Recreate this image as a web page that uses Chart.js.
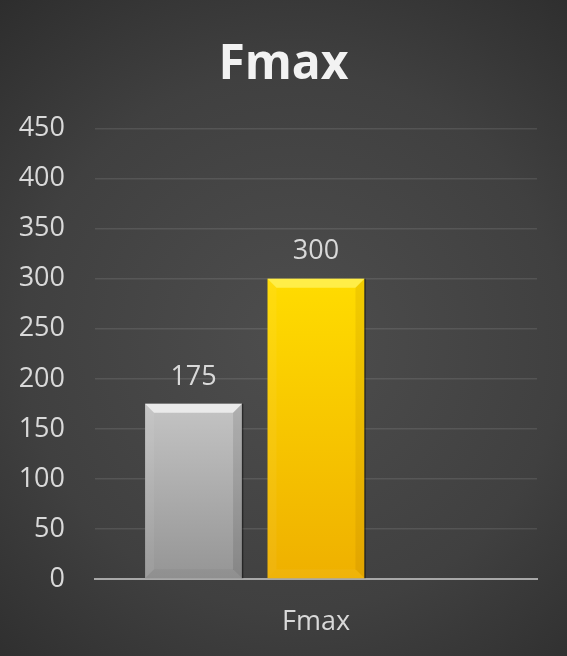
<!DOCTYPE html>
<html>
<head>
<meta charset="utf-8">
<title>Fmax</title>
<script src="https://cdn.jsdelivr.net/npm/chart.js@4.4.0/dist/chart.umd.min.js"></script>
<style>
  html, body { margin: 0; padding: 0; background: #333; }
  #wrap { width: 567px; height: 656px; }
</style>
</head>
<body>
<div id="wrap"><canvas id="fmaxChart" width="567" height="656"></canvas></div>
<script>
// Chart data
const categories = ['Fmax'];
const seriesNames = ['Series 1', 'Series 2', 'Series 3'];
const series1 = [175];
const series2 = [300];
const series3 = [null];
const yTicks = [0, 50, 100, 150, 200, 250, 300, 350, 400, 450];

const FONT = '"Open Sans", "DejaVu Sans", sans-serif';

// Vertical gradient running from the top of a bar down to its base
function barGradient(c, top, bottom) {
  const chart = c.chart;
  const y = chart.scales.y;
  if (!chart.chartArea || !y || c.raw === null || c.raw === undefined) return top;
  const y0 = y.getPixelForValue(c.raw);
  const y1 = y.getPixelForValue(0);
  const g = chart.ctx.createLinearGradient(0, y0, 0, y1);
  g.addColorStop(0, top);
  g.addColorStop(1, bottom);
  return g;
}

// Dark radial background behind everything
const backgroundPlugin = {
  id: 'radialBackground',
  beforeDraw(chart) {
    const { ctx, width, height } = chart;
    const g = ctx.createRadialGradient(width * 0.52, height * 0.52, 10, width * 0.52, height * 0.52, width * 0.85);
    g.addColorStop(0, '#4d4d4d');
    g.addColorStop(0.55, '#404040');
    g.addColorStop(1, '#2a2a2a');
    ctx.save();
    ctx.fillStyle = g;
    ctx.fillRect(0, 0, width, height);
    ctx.restore();
  }
};

// Bevel edges on each bar plus value labels above them
const bevelPlugin = {
  id: 'bevelBars',
  afterDatasetsDraw(chart) {
    const ctx = chart.ctx;
    const bevels = [
      { light: 'rgba(255,255,255,0.65)', side: 'rgba(255,255,255,0.06)', dark: 'rgba(0,0,0,0.10)', base: 'rgba(0,0,0,0.04)' },
      { light: 'rgba(255,250,120,0.6)', side: 'rgba(255,255,255,0.05)', dark: 'rgba(120,70,0,0.10)', base: 'rgba(255,255,255,0.04)' }
    ];
    chart.data.datasets.forEach((ds, di) => {
      const meta = chart.getDatasetMeta(di);
      meta.data.forEach((bar, i) => {
        const v = ds.data[i];
        if (v === null || v === undefined) return;
        const b = bevels[di] || bevels[0];
        const left = bar.x - bar.width / 2;
        const right = bar.x + bar.width / 2;
        const top = bar.y;
        const bottom = bar.base;
        const s = 9;
        ctx.save();
        // top face
        ctx.fillStyle = b.light;
        ctx.beginPath();
        ctx.moveTo(left, top); ctx.lineTo(right, top);
        ctx.lineTo(right - s, top + s); ctx.lineTo(left + s, top + s);
        ctx.closePath(); ctx.fill();
        // left face
        ctx.fillStyle = b.side;
        ctx.beginPath();
        ctx.moveTo(left, top); ctx.lineTo(left + s, top + s);
        ctx.lineTo(left + s, bottom - s); ctx.lineTo(left, bottom);
        ctx.closePath(); ctx.fill();
        // right face
        ctx.fillStyle = b.dark;
        ctx.beginPath();
        ctx.moveTo(right, top); ctx.lineTo(right - s, top + s);
        ctx.lineTo(right - s, bottom - s); ctx.lineTo(right, bottom);
        ctx.closePath(); ctx.fill();
        // bottom face
        ctx.fillStyle = b.base;
        ctx.beginPath();
        ctx.moveTo(left, bottom); ctx.lineTo(left + s, bottom - s);
        ctx.lineTo(right - s, bottom - s); ctx.lineTo(right, bottom);
        ctx.closePath(); ctx.fill();
        // thin dark outline on the right edge
        ctx.strokeStyle = 'rgba(0,0,0,0.45)';
        ctx.lineWidth = 1.5;
        ctx.beginPath();
        ctx.moveTo(right + 0.5, top); ctx.lineTo(right + 0.5, bottom);
        ctx.stroke();

        // value label
        ctx.fillStyle = '#d9d9d9';
        ctx.font = '27px ' + FONT;
        ctx.textAlign = 'center';
        ctx.textBaseline = 'middle';
        ctx.fillText(String(v), bar.x, top - 27);
        ctx.restore();
      });
    });
  }
};

const ctx = document.getElementById('fmaxChart').getContext('2d');
const fmaxChart = new Chart(ctx, {
  type: 'bar',
  data: {
    labels: categories,
    datasets: [
      {
        label: seriesNames[0],
        data: series1,
        backgroundColor: c => barGradient(c, '#c4c4c4', '#959595'),
        borderWidth: 0
      },
      {
        label: seriesNames[1],
        data: series2,
        backgroundColor: c => barGradient(c, '#ffdc00', '#efb000'),
        borderWidth: 0
      },
      {
        label: seriesNames[2],
        data: series3,
        backgroundColor: '#7f7f7f',
        borderWidth: 0
      }
    ]
  },
  options: {
    responsive: false,
    animation: false,
    categoryPercentage: 0.831,
    barPercentage: 0.792,
    layout: { padding: { left: 0, right: 0, top: 0, bottom: 18 } },
    plugins: {
      legend: { display: false },
      tooltip: { enabled: false },
      title: {
        display: true,
        text: 'Fmax',
        color: '#f2f2f2',
        font: { family: FONT, size: 48, weight: 'bold' },
        padding: { top: 37, bottom: 34 }
      }
    },
    scales: {
      x: {
        afterFit: axis => { axis.height = 59; },
        grid: { display: false, drawTicks: false },
        border: { display: true, color: '#a8a8a8', width: 2 },
        ticks: {
          color: '#d9d9d9',
          font: { family: FONT, size: 27 },
          padding: 27
        }
      },
      y: {
        min: 0,
        max: 450,
        afterBuildTicks: axis => {
          axis.ticks = yTicks.map(v => ({ value: v }));
        },
        afterFit: axis => { axis.width = 95; },
        grid: { color: 'rgba(255,255,255,0.1)', lineWidth: 1.5, drawTicks: false },
        border: { display: false },
        ticks: {
          color: '#d9d9d9',
          font: { family: FONT, size: 27 },
          padding: 30
        }
      },
      // empty right-hand margin so the plot stops short of the edge
      yRight: {
        position: 'right',
        min: 0,
        max: 450,
        afterFit: axis => { axis.width = 30; },
        grid: { display: false, drawTicks: false },
        border: { display: false },
        ticks: { display: false }
      }
    }
  },
  plugins: [backgroundPlugin, bevelPlugin]
});
</script>
</body>
</html>
